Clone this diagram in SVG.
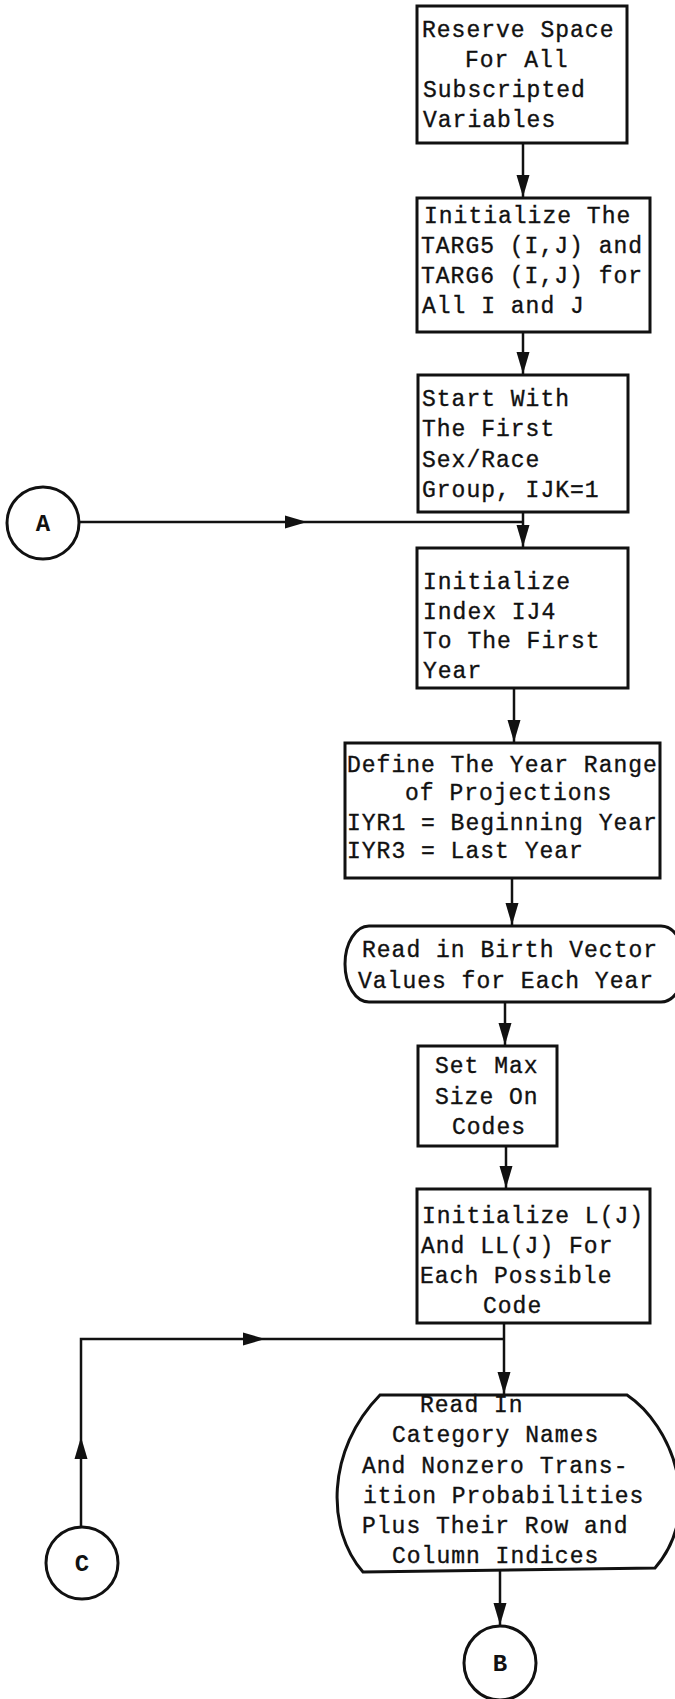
<svg xmlns="http://www.w3.org/2000/svg" width="675" height="1699" viewBox="0 0 675 1699">
<style>
  .box { fill: #fff; stroke: #111; stroke-width: 3; }
  .circ { fill: #fff; stroke: #111; stroke-width: 3; }
  .t { font-family: "Liberation Mono", "DejaVu Sans Mono", monospace; font-size: 23px; letter-spacing: 1px; fill: #111; stroke: #111; stroke-width: 0.35; }
  .lbl { font-family: "Liberation Mono", "DejaVu Sans Mono", monospace; font-size: 24px; font-weight: bold; fill: #111; text-anchor: middle; }
  .c { fill: none; stroke: #111; stroke-width: 2.5; }
</style>
<defs>
  <marker id="ah" markerUnits="userSpaceOnUse" markerWidth="26" markerHeight="16" viewBox="-24 -8 26 16" refX="0" refY="0" orient="auto">
    <path d="M0,0 L-22,-6.5 L-22,6.5 Z" fill="#111"/>
  </marker>
</defs>
<rect width="675" height="1699" fill="#fff"/>

<g id="connectors">
  <path class="c" d="M523,143 L523,197" marker-end="url(#ah)"/>
  <path class="c" d="M523,332 L523,374" marker-end="url(#ah)"/>
  <path class="c" d="M523,512 L523,547" marker-end="url(#ah)"/>
  <path class="c" d="M79,522 L307,522" marker-end="url(#ah)"/>
  <path class="c" d="M307,522 L523,522"/>
  <path class="c" d="M514,688 L514,742" marker-end="url(#ah)"/>
  <path class="c" d="M512,878 L512,925" marker-end="url(#ah)"/>
  <path class="c" d="M505,1002 L505,1045" marker-end="url(#ah)"/>
  <path class="c" d="M506,1146 L506,1188" marker-end="url(#ah)"/>
  <path class="c" d="M504,1323 L504,1394" marker-end="url(#ah)"/>
  <path class="c" d="M81,1527 L81,1437" marker-end="url(#ah)"/>
  <path class="c" d="M81,1437 L81,1339 L265,1339" marker-end="url(#ah)"/>
  <path class="c" d="M265,1339 L504,1339"/>
  <path class="c" d="M500,1570 L500,1625" marker-end="url(#ah)"/>
</g>

<g id="n1">
  <rect class="box" x="417" y="6" width="210" height="137"/>
  <text class="t" x="422" y="37">Reserve Space</text>
  <text class="t" x="465" y="67">For All</text>
  <text class="t" x="423" y="97">Subscripted</text>
  <text class="t" x="423" y="127">Variables</text>
</g>

<g id="n2">
  <rect class="box" x="417" y="198" width="233" height="134"/>
  <text class="t" x="424" y="223">Initialize The</text>
  <text class="t" x="421" y="253">TARG5 (I,J) and</text>
  <text class="t" x="421" y="283">TARG6 (I,J) for</text>
  <text class="t" x="422" y="313">All I and J</text>
</g>

<g id="n3">
  <rect class="box" x="418" y="375" width="210" height="137"/>
  <text class="t" x="422" y="406">Start With</text>
  <text class="t" x="422" y="436">The First</text>
  <text class="t" x="422" y="467">Sex/Race</text>
  <text class="t" x="422" y="497">Group, IJK=1</text>
</g>

<g id="nA">
  <circle class="circ" cx="43" cy="523" r="36"/>
  <text class="lbl" x="43" y="531">A</text>
</g>

<g id="n4">
  <rect class="box" x="417" y="548" width="211" height="140"/>
  <text class="t" x="423" y="589">Initialize</text>
  <text class="t" x="423" y="619">Index IJ4</text>
  <text class="t" x="423" y="648">To The First</text>
  <text class="t" x="423" y="678">Year</text>
</g>

<g id="n5">
  <rect class="box" x="345" y="743" width="315" height="135"/>
  <text class="t" x="347" y="772">Define The Year Range</text>
  <text class="t" x="405" y="800">of Projections</text>
  <text class="t" x="347" y="830">IYR1 = Beginning Year</text>
  <text class="t" x="347" y="858">IYR3 = Last Year</text>
</g>

<g id="n6">
  <rect class="box" x="345" y="926" width="340" height="76" rx="24" ry="38"/>
  <text class="t" x="362" y="957">Read in Birth Vector</text>
  <text class="t" x="358" y="988">Values for Each Year</text>
</g>

<g id="n7">
  <rect class="box" x="418" y="1046" width="139" height="100"/>
  <text class="t" x="435" y="1073">Set Max</text>
  <text class="t" x="435" y="1104">Size On</text>
  <text class="t" x="452" y="1134">Codes</text>
</g>

<g id="n8">
  <rect class="box" x="417" y="1189" width="233" height="134"/>
  <text class="t" x="422" y="1223">Initialize L(J)</text>
  <text class="t" x="421" y="1253">And LL(J) For</text>
  <text class="t" x="420" y="1283">Each Possible</text>
  <text class="t" x="483" y="1313">Code</text>
</g>

<g id="nC">
  <circle class="circ" cx="82" cy="1563" r="36"/>
  <text class="lbl" x="82" y="1571">C</text>
</g>

<g id="n9">
  <path class="box" d="M380,1395 L627,1395 C672,1425 705,1510 655,1568 L363,1572 C326,1530 326,1450 380,1395 Z"/>
  <text class="t" x="420" y="1412">Read In</text>
  <text class="t" x="392" y="1442">Category Names</text>
  <text class="t" x="362" y="1473">And Nonzero Trans-</text>
  <text class="t" x="363" y="1503">ition Probabilities</text>
  <text class="t" x="362" y="1533">Plus Their Row and</text>
  <text class="t" x="392" y="1563">Column Indices</text>
</g>

<g id="nB">
  <ellipse class="circ" cx="500" cy="1663" rx="36" ry="37"/>
  <text class="lbl" x="500" y="1671">B</text>
</g>
</svg>
